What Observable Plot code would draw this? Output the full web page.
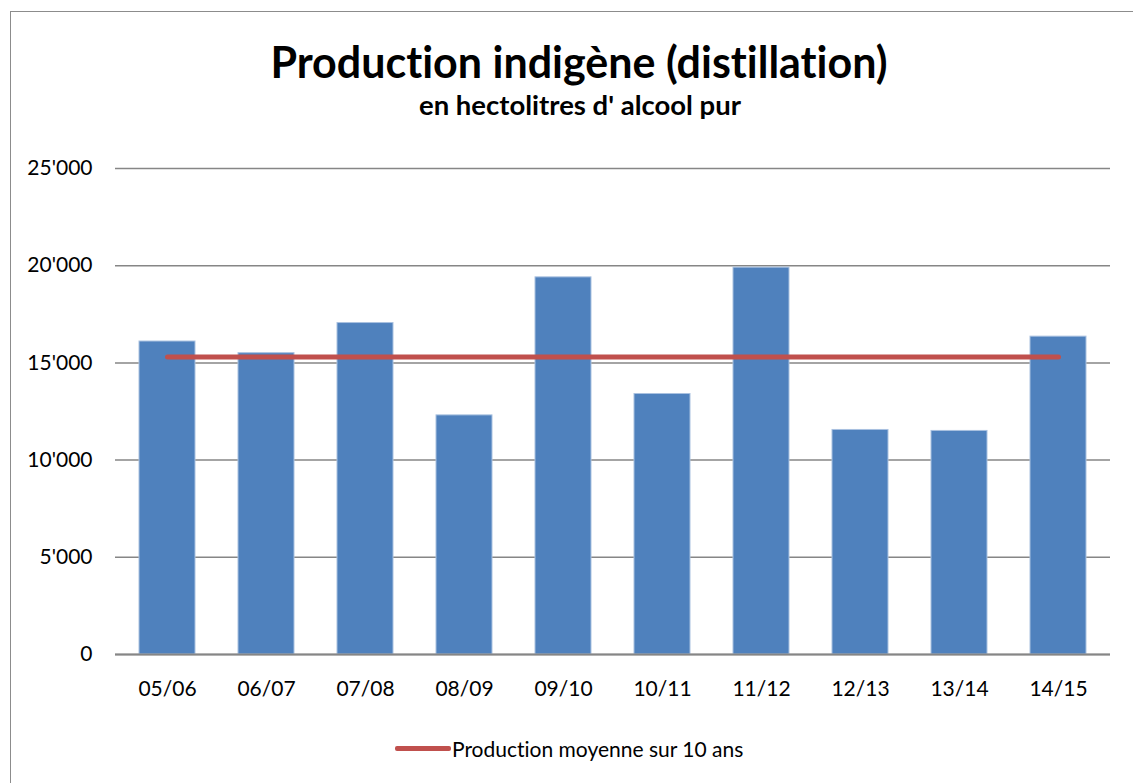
<!DOCTYPE html>
<html>
<head>
<meta charset="utf-8">
<script src="https://cdn.jsdelivr.net/npm/d3@7"></script>
<script src="https://cdn.jsdelivr.net/npm/@observablehq/plot@0.6"></script>
<style>
  html, body { margin: 0; padding: 0; background: #fff; }
  body { width: 1133px; height: 783px; position: relative; overflow: hidden; font-family: Lato, "Open Sans", sans-serif; font-variant-ligatures: none; font-feature-settings: "liga" 0, "clig" 0; }
  svg, svg text { font-variant-ligatures: none; font-feature-settings: "liga" 0, "clig" 0; }
  #frame { position: absolute; left: 10px; top: 11px; width: 1140px; height: 800px; border-left: 1.5px solid #8c8c8c; border-top: 1.5px solid #8c8c8c; }
  #title { position: absolute; left: 0; width: 1158px; top: 36px; line-height: 52px; text-align: center; font-size: 43px; font-weight: bold; color: #000; }
  #subtitle { position: absolute; left: 0; width: 1160px; top: 89px; line-height: 32px; text-align: center; font-size: 27.5px; font-weight: bold; color: #000; }
  #chart { position: absolute; left: 0; top: 0; }
  #legend { position: absolute; left: 395px; top: 735px; height: 26px; display: flex; align-items: center; font-size: 21px; color: #000; }
  #legend .sw { width: 56px; height: 5px; background: #C0504D; border-radius: 2px; margin-right: 1px; }
</style>
</head>
<body>
<div id="frame"></div>
<div id="chart"></div>
<div id="title">Production indigène (distillation)</div>
<div id="subtitle">en hectolitres d' alcool pur</div>
<div id="legend"><div class="sw"></div><span>Production moyenne sur 10 ans</span></div>
<script>
const years = ["05/06","06/07","07/08","08/09","09/10","10/11","11/12","12/13","13/14","14/15"];
const production = [16100, 15500, 17050, 12300, 19400, 13400, 19900, 11550, 11500, 16350];
const moyenne = 15300;
const yTicks = [0, 5000, 10000, 15000, 20000, 25000];

const rows = years.map((y, i) => ({year: y, value: production[i], avg: moyenne}));
const fmt = d3.formatLocale({decimal: ".", thousands: "'", grouping: [3], currency: ["", ""]}).format(",");

const chart = Plot.plot({
  width: 1133,
  height: 720,
  marginLeft: 115,
  marginRight: 23,
  marginTop: 168,
  marginBottom: 66,
  style: {fontFamily: "Lato, 'Open Sans', sans-serif", fontSize: "21px", color: "#000", background: "transparent"},
  x: {domain: years, paddingInner: 0.43, paddingOuter: 0.2, label: null},
  y: {domain: [0, 25000], label: null},
  marks: [
    Plot.gridY(yTicks, {stroke: "#868686", strokeOpacity: 1, strokeWidth: 1.5}),
    Plot.barY(rows, {x: "year", y: "value", fill: "#4F81BD", stroke: "#a9c1e0", strokeWidth: 1}),
    Plot.ruleY([0], {stroke: "#868686", strokeWidth: 2}),
    Plot.axisY(yTicks, {tickSize: 0, tickPadding: 23, tickFormat: fmt, fontSize: 21, fill: "#000"}),
    Plot.axisX({tickSize: 0, tickPadding: 27, fontSize: 21, fill: "#000"}),
    Plot.lineY(rows, {x: "year", y: "avg", stroke: "#C0504D", strokeWidth: 5, strokeLinecap: "round"})
  ]
});
document.getElementById("chart").appendChild(chart);
</script>
</body>
</html>
